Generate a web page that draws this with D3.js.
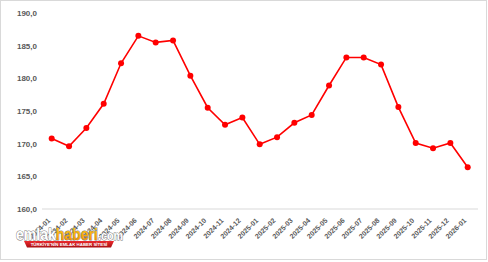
<!DOCTYPE html>
<html>
<head>
<meta charset="utf-8">
<script src="https://cdn.jsdelivr.net/npm/d3@7"></script>
<style>
  body { margin: 0; background: #fff; }
  svg { display: block; font-family: "Liberation Sans", Arial, sans-serif; }
</style>
</head>
<body>
<div class="chart"></div>
<script>
// data
var months = ["2024-01","2024-02","2024-03","2024-04","2024-05","2024-06","2024-07","2024-08",
              "2024-09","2024-10","2024-11","2024-12","2025-01","2025-02","2025-03","2025-04",
              "2025-05","2025-06","2025-07","2025-08","2025-09","2025-10","2025-11","2025-12","2026-01"];
var values = [170.8, 169.6, 172.4, 176.1, 182.3, 186.5, 185.5, 185.8,
              180.4, 175.5, 172.9, 174.0, 169.9, 171.0, 173.2, 174.4,
              178.9, 183.2, 183.2, 182.1, 175.6, 170.1, 169.3, 170.1, 166.4];
var yTicks = [160, 165, 170, 175, 180, 185, 190];

var W = 488, H = 262;
var svg = d3.select(".chart").append("svg")
    .attr("width", W).attr("height", H);
var defs = svg.append("defs");

// outer frame
svg.append("rect")
    .attr("x", 0.5).attr("y", 0.5)
    .attr("width", 486).attr("height", 259)
    .attr("fill", "#fff").attr("stroke", "#d9d9d9");

var x = d3.scalePoint().domain(months).range([51.7, 467.7]);
var y = d3.scaleLinear().domain([160, 190]).range([209, 13]);

// baseline
svg.append("line")
    .attr("x1", 42).attr("x2", 478)
    .attr("y1", y(160)).attr("y2", y(160))
    .attr("stroke", "#d9d9d9").attr("stroke-width", 1);

// y axis
var fmt = function(d) { return d3.format(".1f")(d).replace(".", ","); };
var yAxis = svg.append("g")
    .attr("transform", "translate(37,0)")
    .call(d3.axisLeft(y).tickValues(yTicks).tickFormat(fmt).tickSize(0).tickPadding(0));
yAxis.select(".domain").remove();
yAxis.selectAll("text")
    .attr("fill", "#595959").attr("font-size", 8).attr("font-weight", "bold");

// x axis
var xAxis = svg.append("g")
    .attr("transform", "translate(0," + y(160) + ")")
    .call(d3.axisBottom(x).tickSize(0).tickPadding(0));
xAxis.select(".domain").remove();
xAxis.selectAll("text")
    .attr("fill", "#595959").attr("font-size", 7).attr("font-weight", "bold")
    .attr("text-anchor", "end")
    .attr("x", 0).attr("y", 0).attr("dy", 0)
    .attr("transform", "translate(-1.5,12) rotate(-45)");

// line + markers
var line = d3.line()
    .x(function(d, i) { return x(months[i]); })
    .y(function(d) { return y(d); });

svg.append("path")
    .datum(values)
    .attr("d", line)
    .attr("fill", "none")
    .attr("stroke", "#ff0000")
    .attr("stroke-width", 1.6);

svg.selectAll("circle.pt")
    .data(values)
    .enter().append("circle")
    .attr("class", "pt")
    .attr("cx", function(d, i) { return x(months[i]); })
    .attr("cy", function(d) { return y(d); })
    .attr("r", 3)
    .attr("fill", "#ff0000");

// watermark logo
var orange = defs.append("linearGradient")
    .attr("id", "orange").attr("x1", 0).attr("x2", 0).attr("y1", 0).attr("y2", 1);
orange.append("stop").attr("offset", "0%").attr("stop-color", "#ffd21a");
orange.append("stop").attr("offset", "100%").attr("stop-color", "#f08a00");

var grad = defs.append("linearGradient")
    .attr("id", "banner").attr("x1", 0).attr("x2", 0).attr("y1", 0).attr("y2", 1);
grad.append("stop").attr("offset", "0%").attr("stop-color", "#ec2a2e");
grad.append("stop").attr("offset", "100%").attr("stop-color", "#a80f12");

var logo = svg.append("g").attr("transform", "translate(16,240)");
var lt = logo.append("text")
    .attr("font-size", 17).attr("font-weight", "bold")
    .attr("textLength", 107).attr("lengthAdjust", "spacingAndGlyphs")
    .attr("stroke", "#7a7a7a").attr("stroke-width", 1)
    .attr("paint-order", "stroke");
lt.append("tspan").text("emlak").attr("fill", "#ffffff");
lt.append("tspan").text("haberi").attr("fill", "url(#orange)");
lt.append("tspan").text(".com").attr("fill", "#ffffff").attr("font-size", 13);

logo.append("path")
    .attr("d", "M8,1 L98,1 L95,7.5 L11,7.5 Z")
    .attr("fill", "url(#banner)");
logo.append("text")
    .attr("x", 53).attr("y", 6)
    .attr("text-anchor", "middle")
    .attr("font-size", 4.4).attr("font-weight", "bold")
    .attr("fill", "#fff")
    .text("TÜRKİYE'NİN EMLAK HABER SİTESİ");
</script>
</body>
</html>
